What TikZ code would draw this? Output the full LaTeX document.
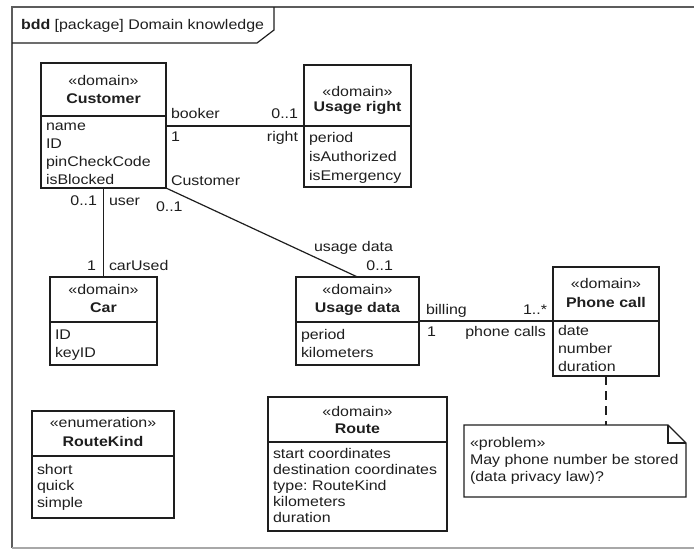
\documentclass[tikz,border=0pt]{standalone}
\usepackage{fontspec}
\setmainfont{Liberation Sans}[FakeStretch=1.14]
\usetikzlibrary{calc}
\frenchspacing

\definecolor{ink}{HTML}{1E1E1E}
\definecolor{framegray}{HTML}{5C5C5C}
\definecolor{framelight}{HTML}{A8A8A8}

\tikzset{
  classbox/.style={draw=ink, line width=1.4pt, anchor=north west, inner sep=0pt, outer sep=0pt},
  divider/.style={draw=ink, line width=1.3pt},
  lbl/.style={inner sep=0pt, outer sep=0pt, text=ink, font=\fontsize{14}{16}\selectfont},
  stereo/.style={lbl, anchor=base},
  ctitle/.style={lbl, anchor=base, font=\fontsize{14}{16}\selectfont\bfseries},
  attr/.style={lbl, anchor=base west},
  rolel/.style={lbl, anchor=base west},
  roler/.style={lbl, anchor=base east},
  assoc/.style={draw=ink, line width=1.2pt},
  anchorline/.style={draw=ink, line width=1.3pt, dashed, dash pattern=on 9pt off 6pt},
}

\begin{document}
\begin{tikzpicture}[x=1pt, y=-1pt]
\useasboundingbox (0,0) rectangle (694,550);

% ---- diagram frame and its name tab
\draw[framegray, line width=1.4pt] (694,7) -- (12,7) -- (12,548);
\draw[framelight, line width=1.2pt] (12,548) -- (694,548);
\draw[ink, line width=1.2pt] (12,43) -- (257,43) -- (274,30) -- (274,7);
\node[rolel] (hdr) at (21,29.5) {\textbf{bdd} [package] Domain knowledge};

% ---- class boxes
\node[classbox, minimum width=125pt, minimum height=125pt] (cust)  at (41,63)  {};
\node[classbox, minimum width=107pt, minimum height=122pt] (ur)    at (304,65) {};
\node[classbox, minimum width=107pt, minimum height=88pt]  (car)   at (50,277) {};
\node[classbox, minimum width=123pt, minimum height=88pt]  (udata) at (296,277) {};
\node[classbox, minimum width=106pt, minimum height=109pt] (pc)    at (553,267) {};
\node[classbox, minimum width=142pt, minimum height=107pt] (rk)    at (32,411) {};
\node[classbox, minimum width=179pt, minimum height=134pt] (route) at (268,397) {};

% compartment dividers
\draw[divider] (cust.west |- 0,116)  -- (cust.east |- 0,116);
\draw[divider] (ur.west |- 0,126)    -- (ur.east |- 0,126);
\draw[divider] (car.west |- 0,322)   -- (car.east |- 0,322);
\draw[divider] (udata.west |- 0,322) -- (udata.east |- 0,322);
\draw[divider] (pc.west |- 0,321)    -- (pc.east |- 0,321);
\draw[divider] (rk.west |- 0,456)    -- (rk.east |- 0,456);
\draw[divider] (route.west |- 0,442) -- (route.east |- 0,442);

% stereotypes and names
\node[stereo] (cust-st)  at (103.5,85.5)  {«domain»};
\node[ctitle] (cust-nm)  at (103.5,103.5) {Customer};
\node[stereo] (ur-st)    at (357.5,96.5)  {«domain»};
\node[ctitle] (ur-nm)    at (357.5,111.5) {Usage right};
\node[stereo] (car-st)   at (103.5,294.5) {«domain»};
\node[ctitle] (car-nm)   at (103.5,312.5) {Car};
\node[stereo] (udata-st) at (357.5,294.5) {«domain»};
\node[ctitle] (udata-nm) at (357.5,312.5) {Usage data};
\node[stereo] (pc-st)    at (606,288.5)   {«domain»};
\node[ctitle] (pc-nm)    at (606,307.5)   {Phone call};
\node[stereo] (rk-st)    at (103,427.5)   {«enumeration»};
\node[ctitle] (rk-nm)    at (103,446.5)   {RouteKind};
\node[stereo] (route-st) at (357.5,416.5) {«domain»};
\node[ctitle] (route-nm) at (357.5,433.5) {Route};

% attributes
\foreach \t [count=\i] in {name,ID,pinCheckCode,isBlocked}
  \node[attr] (cust-a\i) at (46,{130.5+18*(\i-1)}) {\t};
\foreach \t [count=\i] in {period,isAuthorized,isEmergency}
  \node[attr] (ur-a\i) at (309,{142.5+19*(\i-1)}) {\t};
\foreach \t [count=\i] in {ID,keyID}
  \node[attr] (car-a\i) at (55,{339.5+18*(\i-1)}) {\t};
\foreach \t [count=\i] in {period,kilometers}
  \node[attr] (udata-a\i) at (301,{339.5+18*(\i-1)}) {\t};
\foreach \t [count=\i] in {date,number,duration}
  \node[attr] (pc-a\i) at (558,{335.5+18*(\i-1)}) {\t};
\foreach \t [count=\i] in {short,quick,simple}
  \node[attr] (rk-a\i) at (37,{474+16.5*(\i-1)}) {\t};
\foreach \t [count=\i] in {start coordinates,destination coordinates,type: RouteKind,kilometers,duration}
  \node[attr] (route-a\i) at (273,{458.5+16*(\i-1)}) {\t};

% ---- note with folded corner
\node[anchor=north west, inner sep=0pt, outer sep=0pt, minimum width=222pt, minimum height=72pt] (note) at (464,425) {};
\draw[ink, line width=1.3pt]
  (note.north west) -- ($(note.north east)+(-18,0)$) -- ($(note.north east)+(0,18)$)
  -- (note.south east) -- (note.south west) -- cycle;
\draw[ink, line width=1.8pt]
  ($(note.north east)+(-18,0)$) -- ($(note.north east)+(-18,18)$) -- ($(note.north east)+(0,18)$);
\foreach \t [count=\i] in {«problem»,May phone number be stored,(data privacy law)?}
  \node[attr] (note-l\i) at (470,{447.5+17*(\i-1)}) {\t};

% ---- associations
\coordinate (ur-div) at (304,126);
\coordinate (pc-div) at (553,321);
\draw[assoc] (cust.east |- ur-div) -- (ur-div);
\draw[assoc] (cust.south) -- (car.north);
\draw[assoc] (cust.south east) -- (udata.north);
\draw[assoc] (udata.east |- pc-div) -- (pc-div);
\draw[anchorline] (pc.south) -- (pc.south |- note.north);

% association end labels
\node[rolel] (r-booker) at (171,118.5) {booker};
\node[roler] (m-right)  at (298,118.5) {0..1};
\node[rolel] (m-booker) at (171,141.5) {1};
\node[roler] (r-right)  at (298,141.5) {right};
\node[rolel] (r-cust)   at (171,185)   {Customer};
\node[rolel] (m-cust)   at (156,211)   {0..1};
\node[roler] (r-udata)  at (393,251)   {usage data};
\node[roler] (m-udata)  at (393,270)   {0..1};
\node[roler] (m-user)   at (97,205)    {0..1};
\node[rolel] (r-user)   at (109,205)   {user};
\node[roler] (m-car)    at (96,270)    {1};
\node[rolel] (r-car)    at (109,270)   {carUsed};
\node[rolel] (r-bill)   at (426,314)   {billing};
\node[roler] (m-calls)  at (547,314)   {1..*};
\node[rolel] (m-bill)   at (427,336)   {1};
\node[roler] (r-calls)  at (546,336)   {phone calls};
\end{tikzpicture}
\end{document}
